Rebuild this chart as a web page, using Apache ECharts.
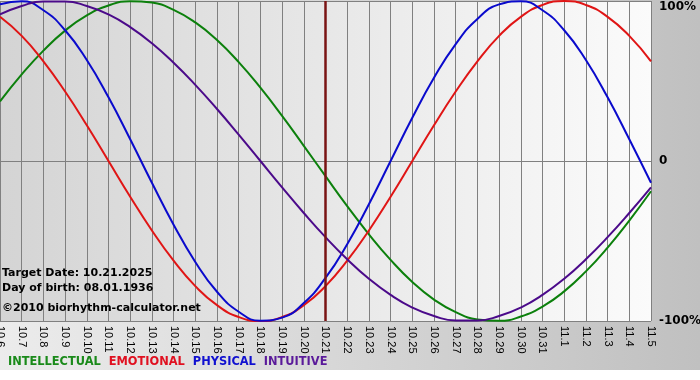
<!DOCTYPE html>
<html>
<head>
<meta charset="utf-8">
<script src="https://cdn.jsdelivr.net/npm/echarts@6/dist/echarts.min.js"></script>
<style>html,body{margin:0;padding:0;background:#fff}#c{width:700px;height:380px}</style>
</head>
<body>
<div id="c"></div>
<script>
var days = ['10.6','10.7','10.8','10.9','10.10','10.11','10.12','10.13','10.14','10.15','10.16','10.17','10.18','10.19','10.20','10.21','10.22','10.23','10.24','10.25','10.26','10.27','10.28','10.29','10.30','10.31','11.1','11.2','11.3','11.4','11.5'];
var intellectual = [37.2,54.1,69.0,81.5,91.0,97.2,99.9,99.0,94.5,86.6,75.6,61.8,45.8,28.2,9.5,-9.5,-28.2,-45.8,-61.8,-75.6,-86.6,-94.5,-99.0,-99.9,-97.2,-91.0,-81.5,-69.0,-54.1,-37.2,-18.9];
var emotional = [90.1,78.2,62.3,43.4,22.3,0,-22.3,-43.4,-62.3,-78.2,-90.1,-97.5,-100,-97.5,-90.1,-78.2,-62.3,-43.4,-22.3,0,22.3,43.4,62.3,78.2,90.1,97.5,100,97.5,90.1,78.2,62.3];
var physical = [97.9,99.8,94.2,81.7,63.1,39.8,13.6,-13.6,-39.8,-63.1,-81.7,-94.2,-99.8,-97.9,-88.8,-73.1,-52.0,-27.0,0,27.0,52.0,73.1,88.8,97.9,99.8,94.2,81.7,63.1,39.8,13.6,-13.6];
var intuitive = [91.6,96.9,99.7,99.7,96.9,91.6,83.7,73.6,61.4,47.6,32.5,16.5,0,-16.5,-32.5,-47.6,-61.4,-73.6,-83.7,-91.6,-96.9,-99.7,-99.7,-96.9,-91.6,-83.7,-73.6,-61.4,-47.6,-32.5,-16.5];
var targetDay = '10.21';
var infoLines = ['Target Date: 10.21.2025', 'Day of birth: 08.01.1936', '\u00a92010 biorhythm-calculator.net'];
var yTicks = {'100':'100%','0':'0','-100':'-100%'};

var seriesNames = ['INTELLECTUAL','EMOTIONAL','PHYSICAL','INTUITIVE'];
var lineColors = ['#0c800c','#e01515','#0a0acc','#4b0a8a'];
var legendColors = ['#1a8a1a','#e01020','#1010d0','#5a1a9a'];
var seriesData = [intellectual, emotional, physical, intuitive];

var chart = echarts.init(document.getElementById('c'), null, {renderer:'canvas'});
var series = seriesNames.map(function(n,i){
  var s = {
    name: n, type:'line', data: seriesData[i], smooth: true, symbol:'none',
    lineStyle:{color: lineColors[i], width: 2}, itemStyle:{color: lineColors[i]},
    animation:false, z: 3
  };
  if (i === 0) {
    s.markLine = {
      silent:true, symbol:['none','none'], label:{show:false},
      lineStyle:{color:'#7a1414', width:2.5, type:'solid'},
      data:[{xAxis: targetDay}], animation:false
    };
  }
  return s;
});

var graphics = [
  {type:'rect', left:0, top:370, shape:{width:700, height:10}, style:{fill:'#ffffff'}, silent:true}
];
var infoTops = [268, 283, 303];
infoLines.forEach(function(t,i){
  graphics.push({type:'text', left:2, top:infoTops[i], z:10,
    style:{text:t, font:'bold 11px "DejaVu Sans"', fill:'#000'}});
});

chart.setOption({
  animation:false,
  backgroundColor: {type:'linear', x:0, y:0, x2:1, y2:0,
    colorStops:[{offset:0, color:'#ececec'},{offset:1, color:'#c0c0c0'}]},
  grid:{left:0, right:49, top:1, bottom:59, show:true, borderWidth:0, containLabel:false, outerBoundsMode:'none',
    backgroundColor:{type:'linear', x:0, y:0, x2:1, y2:0,
      colorStops:[{offset:0, color:'#d4d4d4'},{offset:1, color:'#fbfbfb'}]}},
  legend:{
    left:3, top:357, padding:0, icon:'none', itemWidth:0, itemHeight:0, itemGap:3,
    selectedMode:false,
    data: seriesNames.map(function(n,i){ return {name:n, textStyle:{color:legendColors[i]}}; }),
    textStyle:{fontFamily:'DejaVu Sans', fontWeight:'bold', fontSize:11.4}
  },
  xAxis:{
    type:'category', data: days, boundaryGap:false,
    axisLine:{show:true, lineStyle:{color:'#808080', width:1}},
    axisTick:{show:true, length:2, lineStyle:{color:'#808080'}},
    axisLabel:{interval:0, rotate:-90, margin:5, color:'#000', fontSize:11, fontFamily:'"Liberation Sans Narrow", "Liberation Sans", sans-serif'},
    splitLine:{show:true, lineStyle:{color:'#808080', width:1}}
  },
  yAxis:{
    type:'value', position:'right', min:-100, max:100, interval:100,
    axisLine:{show:false}, axisTick:{show:false},
    splitLine:{show:true, lineStyle:{color:'#808080', width:1}},
    axisLabel:{margin:8, color:'#000', fontSize:12, fontWeight:'bold', fontFamily:'DejaVu Sans',
      formatter:function(v){ var s = yTicks[String(v)]; return v === 100 ? '{t|' + s + '}' : s; },
      rich:{t:{padding:[12,0,0,0], fontSize:12, fontWeight:'bold', fontFamily:'DejaVu Sans', color:'#000'}}
    }
  },
  graphic: graphics,
  series: series
});
</script>
</body>
</html>
